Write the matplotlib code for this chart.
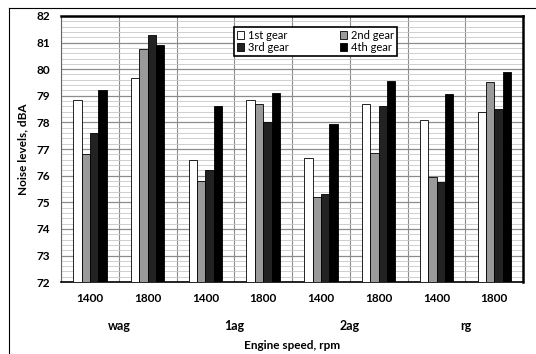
import numpy as np
import matplotlib.pyplot as plt
from matplotlib.lines import Line2D
from matplotlib.ticker import MultipleLocator

plt.rcParams['font.family'] = ['Lato', 'DejaVu Sans']

# --- data ---
gear_types = ['wag', '1ag', '2ag', 'rg']
speeds = ['1400', '1800', '1400', '1800', '1400', '1800', '1400', '1800']
series_names = ['1st gear', '2nd gear', '3rd gear', '4th gear']
gear1 = [78.85, 79.65, 76.6, 78.85, 76.65, 78.7, 78.1, 78.4]
gear2 = [76.8, 80.75, 75.8, 78.7, 75.2, 76.85, 75.95, 79.5]
gear3 = [77.6, 81.3, 76.2, 78.0, 75.3, 78.6, 75.75, 78.5]
gear4 = [79.2, 80.9, 78.6, 79.1, 77.95, 79.55, 79.05, 79.9]

colors = ['white', '#9a9a9a', '#222222', '#000000']

fig = plt.figure(figsize=(5.36, 3.54), dpi=100)
ax = fig.add_axes([0.114, 0.203, 0.862, 0.752])

x = np.arange(len(speeds))
w = 0.145
bars = []
for i, (vals, c, name) in enumerate(zip([gear1, gear2, gear3, gear4], colors, series_names)):
    b = ax.bar(x + (i - 1.5) * w, np.array(vals) - 72, bottom=72, width=w,
               color=c, edgecolor='black', linewidth=0.6, label=name, zorder=3)
    bars.append(b)

ax.set_ylim(72, 82)
ax.set_xlim(-0.5, len(speeds) - 0.5)
ax.yaxis.set_major_locator(MultipleLocator(1))
ax.yaxis.set_minor_locator(MultipleLocator(0.2))
ax.grid(axis='y', which='major', color='#8c8c8c', linewidth=0.9, zorder=0)
ax.grid(axis='y', which='minor', color='#c8c8c8', linewidth=0.6, zorder=0)
for b in np.arange(-0.5, len(speeds), 1.0):
    ax.axvline(b, color='#8c8c8c', linewidth=0.8, zorder=1)

ax.set_xticks(x)
ax.set_xticklabels(speeds, fontsize=8.5, fontweight='bold')
ax.tick_params(axis='x', length=0, pad=8)
ax.tick_params(axis='y', which='both', length=0, labelsize=8.5, pad=8)
for t in ax.get_yticklabels():
    t.set_fontweight('bold')

for sp in ['top', 'right']:
    ax.spines[sp].set_linewidth(1.8)
ax.spines['left'].set_color('#666666')
ax.spines['bottom'].set_linewidth(1.2)

# group names under each pair of speeds
for k, g in enumerate(gear_types):
    ax.text(2 * k + 0.5, -0.163, g, transform=ax.get_xaxis_transform(),
            ha='center', va='center', fontsize=9, fontweight='bold')

ax.set_ylabel('Noise levels, dBA', fontsize=8.5, fontweight='bold', labelpad=6)
ax.text(0.5, -0.237, 'Engine speed, rpm', transform=ax.transAxes,
        ha='center', va='center', fontsize=8.5, fontweight='bold')

# legend rows: 1st/2nd on top, 3rd/4th below
order = [0, 2, 1, 3]
leg = ax.legend([bars[i] for i in order], [series_names[i] for i in order],
                ncol=2, loc='upper left', bbox_to_anchor=(0.362, 0.978), fontsize=8,
                frameon=True, fancybox=False, edgecolor='black', framealpha=1,
                handlelength=0.7, handleheight=0.7, handletextpad=0.3,
                columnspacing=4.6, borderpad=0.25, labelspacing=0.1)
leg.get_frame().set_linewidth(1.2)
leg.set_zorder(5)

# outer border lines
fig.add_artist(Line2D([9 / 536, 9 / 536], [0, 1 - 8 / 354], transform=fig.transFigure,
                      color='black', linewidth=0.8))
fig.add_artist(Line2D([9 / 536, 1], [1 - 8 / 354, 1 - 8 / 354], transform=fig.transFigure,
                      color='black', linewidth=0.8))

fig.savefig('out.png', dpi=100)
